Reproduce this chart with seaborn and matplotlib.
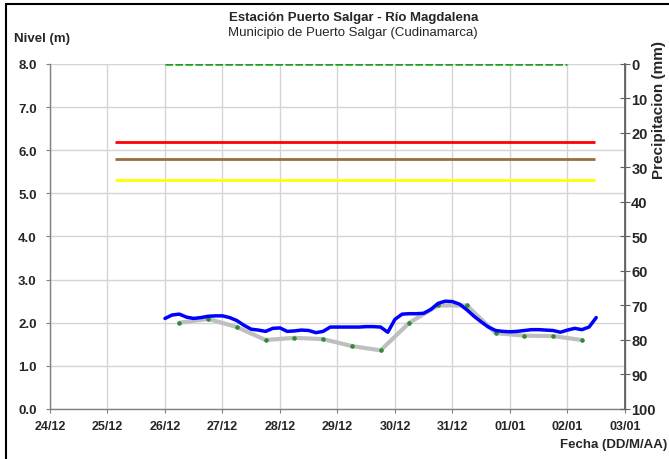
import pandas as pd
import seaborn as sns
import matplotlib
matplotlib.use('Agg')
import matplotlib.pyplot as plt
import matplotlib.dates as mdates
from matplotlib.patches import Rectangle

# nivel observado, cada 3 horas desde 26/12 00:00
nivel_inicio = '2011-12-26 00:00'
nivel = [2.10, 2.18, 2.20, 2.13, 2.10, 2.12, 2.15, 2.16, 2.16, 2.12,
         2.05, 1.94, 1.85, 1.83, 1.80, 1.87, 1.88, 1.80, 1.81, 1.83,
         1.82, 1.77, 1.80, 1.90, 1.90, 1.90, 1.90, 1.90, 1.91, 1.91,
         1.90, 1.78, 2.08, 2.20, 2.21, 2.21, 2.22, 2.31, 2.45, 2.50,
         2.49, 2.43, 2.30, 2.15, 2.02, 1.90, 1.82, 1.80, 1.79, 1.80,
         1.82, 1.84, 1.84, 1.83, 1.82, 1.78, 1.83, 1.87, 1.84, 1.90,
         2.12]

# pronostico cada 12 horas desde 26/12 06:00
pron_inicio = '2011-12-26 06:00'
pronostico = [2.00, 2.09, 1.90, 1.60, 1.65, 1.62, 1.46, 1.36, 2.00, 2.40,
              2.40, 1.76, 1.70, 1.69, 1.60]

# precipitacion cada 12 horas desde 26/12 00:00
precip_inicio = '2011-12-26 00:00'
precipitacion = [0.0, 0.0, 0.0, 0.0, 0.0, 0.0, 0.0, 0.0, 0.0, 0.0,
                 0.0, 0.0, 0.0, 0.0, 0.0]

# umbrales de alerta
umbral_periodo = ['2011-12-25 03:00', '2012-01-02 11:30']
alerta_roja = 6.2
alerta_naranja = 5.8
alerta_amarilla = 5.3

df_nivel = pd.DataFrame({'fecha': pd.date_range(nivel_inicio, periods=len(nivel), freq='3h'),
                         'nivel': nivel})
df_pron = pd.DataFrame({'fecha': pd.date_range(pron_inicio, periods=len(pronostico), freq='12h'),
                        'nivel': pronostico})
df_prec = pd.DataFrame({'fecha': pd.date_range(precip_inicio, periods=len(precipitacion), freq='12h'),
                        'mm': precipitacion})
fechas_umbral = pd.to_datetime(umbral_periodo)

sns.set_theme(style='white')
plt.rcParams['font.family'] = ['Liberation Sans', 'DejaVu Sans']

fig = plt.figure(figsize=(6.69, 4.60), dpi=100)
ax = fig.add_axes([0.0747, 0.1087, 0.8595, 0.75])

for val, col in [(alerta_roja, '#FF0000'), (alerta_naranja, '#9C6B3C'), (alerta_amarilla, '#FFFF00')]:
    ax.plot(fechas_umbral, [val, val], color=col, lw=2, solid_capstyle='butt', zorder=3)

sns.lineplot(data=df_pron, x='fecha', y='nivel', ax=ax, color='#BFBFBF', lw=3,
             marker='o', markersize=2.5, markerfacecolor='#2E8B2E', markeredgecolor='#2E8B2E', zorder=4)
sns.lineplot(data=df_nivel, x='fecha', y='nivel', ax=ax, color='#0000FF', lw=2.5, zorder=5)

ax.set_xlim(pd.Timestamp('2011-12-24'), pd.Timestamp('2012-01-03'))
ax.set_ylim(0, 8)
ax.set_yticks([0, 1, 2, 3, 4, 5, 6, 7, 8])
ax.set_yticklabels([f'{v:.1f}' for v in range(9)])
ax.xaxis.set_major_locator(mdates.DayLocator())
ax.xaxis.set_major_formatter(mdates.DateFormatter('%d/%m'))
ax.grid(True, color='#D4D4D4', lw=1)
ax.set_xlabel('')
ax.set_ylabel('')
for lab in ax.get_xticklabels():
    lab.set_fontweight('bold')
    lab.set_fontsize(9)
for lab in ax.get_yticklabels():
    lab.set_fontweight('bold')
    lab.set_fontsize(9.5)
ax.tick_params(axis='x', length=3, width=0.8, color='#808080', direction='out', pad=5, bottom=True)
ax.tick_params(axis='y', length=3, width=0.8, color='#808080', direction='out', pad=6.5, left=True)
ax.spines['top'].set_visible(False)
for s in ['left', 'bottom', 'right']:
    ax.spines[s].set_color('#808080')
    ax.spines[s].set_linewidth(1)

ax2 = ax.twinx()
sns.lineplot(data=df_prec, x='fecha', y='mm', ax=ax2, color='#1E9E1E', lw=1.8, linestyle=(0, (3, 1)), zorder=6)
ax2.set_ylim(100, 0)
ax2.set_yticks(range(0, 101, 10))
ax2.set_ylabel('')
ax2.tick_params(axis='y', length=7, width=0.8, color='#606060', direction='inout', pad=1)
for lab in ax2.get_yticklabels():
    lab.set_fontweight('bold')
    lab.set_fontsize(10.5)
for s in ['top', 'left', 'bottom']:
    ax2.spines[s].set_visible(False)
ax2.spines['right'].set_color('#606060')

fig.text(0.528, 0.961, 'Estación Puerto Salgar - Río Magdalena', ha='center', va='center',
         fontsize=9.5, fontweight='bold')
fig.text(0.528, 0.929, 'Municipio de Puerto Salgar (Cudinamarca)', ha='center', va='center', fontsize=9.5)
fig.text(0.021, 0.915, 'Nivel (m)', ha='left', va='center', fontsize=9.5, fontweight='bold')
fig.text(0.985, 0.76, 'Precipitacion (mm)', ha='center', va='center', rotation=90,
         fontsize=11, fontweight='bold')
fig.text(0.997, 0.033, 'Fecha (DD/M/AA)', ha='right', va='center', fontsize=9.5, fontweight='bold')

fig.patches.append(Rectangle((0.009, -0.1), 1.1, 1.089, transform=fig.transFigure,
                             fill=False, edgecolor='black', lw=1.5))

fig.savefig('out.png', dpi=100)
